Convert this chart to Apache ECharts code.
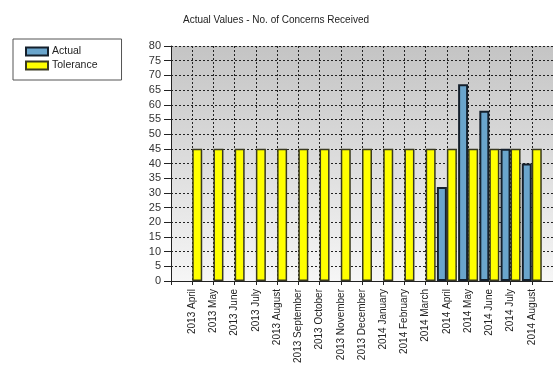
<!DOCTYPE html>
<html>
<head>
<meta charset="utf-8">
<script src="https://cdn.jsdelivr.net/npm/echarts@6/dist/echarts.min.js"></script>
<style>
html,body{margin:0;padding:0;background:#fff;}
#c{width:553px;height:370px;}
</style>
</head>
<body>
<div id="c"></div>
<script>
var categories = ['2013 April','2013 May','2013 June','2013 July','2013 August','2013 September','2013 October','2013 November','2013 December','2014 January','2014 February','2014 March','2014 April','2014 May','2014 June','2014 July','2014 August'];
var actualValues = [null,null,null,null,null,null,null,null,null,null,null,null,32,67,58,45,40];
var toleranceValues = [45,45,45,45,45,45,45,45,45,45,45,45,45,45,45,45,45];
var yTicks = [0,5,10,15,20,25,30,35,40,45,50,55,60,65,70,75,80];

var axisCats = [''].concat(categories).concat(['']);
var actualData = [null].concat(actualValues).concat([null]);
var tolData = [null].concat(toleranceValues).concat([null]);

var chart = echarts.init(document.getElementById('c'), null, {renderer:'canvas'});
chart.setOption({
  animation:false,
  backgroundColor:'#ffffff',
  title:{
    text:'Actual Values - No. of Concerns Received',
    left:178, top:10,
    textStyle:{fontFamily:'Liberation Sans', fontSize:10, fontWeight:'normal', color:'#222'}
  },
  legend:{
    orient:'vertical',
    left:13, top:39,
    padding:[7,24,9,12],
    itemGap:3,
    itemWidth:22, itemHeight:8,
    icon:'rect',
    backgroundColor:'#fff',
    borderColor:'#555', borderWidth:1,
    textStyle:{fontFamily:'Liberation Sans', fontSize:10.5, color:'#222', padding:[0,0,0,-1]},
    data:['Actual','Tolerance']
  },
  grid:{
    left:171, top:46, bottom:89, right:-7,
    show:true, borderWidth:0,
    backgroundColor:{type:'linear', x:0, y:0, x2:0, y2:1,
      colorStops:[{offset:0,color:'#c4c4c4'},{offset:1,color:'#f6f6f6'}]}
  },
  xAxis:{
    type:'category',
    data:axisCats,
    boundaryGap:false,
    axisLine:{show:true, lineStyle:{color:'#222', width:1}},
    axisTick:{show:true, interval:0, length:4, lineStyle:{color:'#222'}},
    axisLabel:{interval:0, rotate:90, margin:8, fontFamily:'Liberation Sans', fontSize:10, color:'#222'},
    splitLine:{show:true, interval:0, lineStyle:{color:'#222', type:[2,2], width:1}}
  },
  yAxis:{
    type:'value',
    min:0, max:80, interval:5,
    axisLine:{show:true, lineStyle:{color:'#222', width:1}},
    axisTick:{show:true, length:7, lineStyle:{color:'#222'}},
    axisLabel:{margin:10, fontFamily:'Liberation Sans', fontSize:11, color:'#333',
      formatter:function(v){return yTicks.indexOf(v)>=0 ? String(v) : '';}},
    splitLine:{show:true, lineStyle:{color:'#222', type:[2,2], width:1}}
  },
  series:[
    {name:'Actual', type:'bar', data:actualData, barWidth:10, barGap:'0%',
     itemStyle:{color:'#6aa5cc', borderColor:'#15202c', borderWidth:2}},
    {name:'Tolerance', type:'bar', data:tolData, barWidth:10, barGap:'0%',
     itemStyle:{color:'#ffff00', borderColor:'#3a3a20', borderWidth:1.5}}
  ]
});
</script>
</body>
</html>
